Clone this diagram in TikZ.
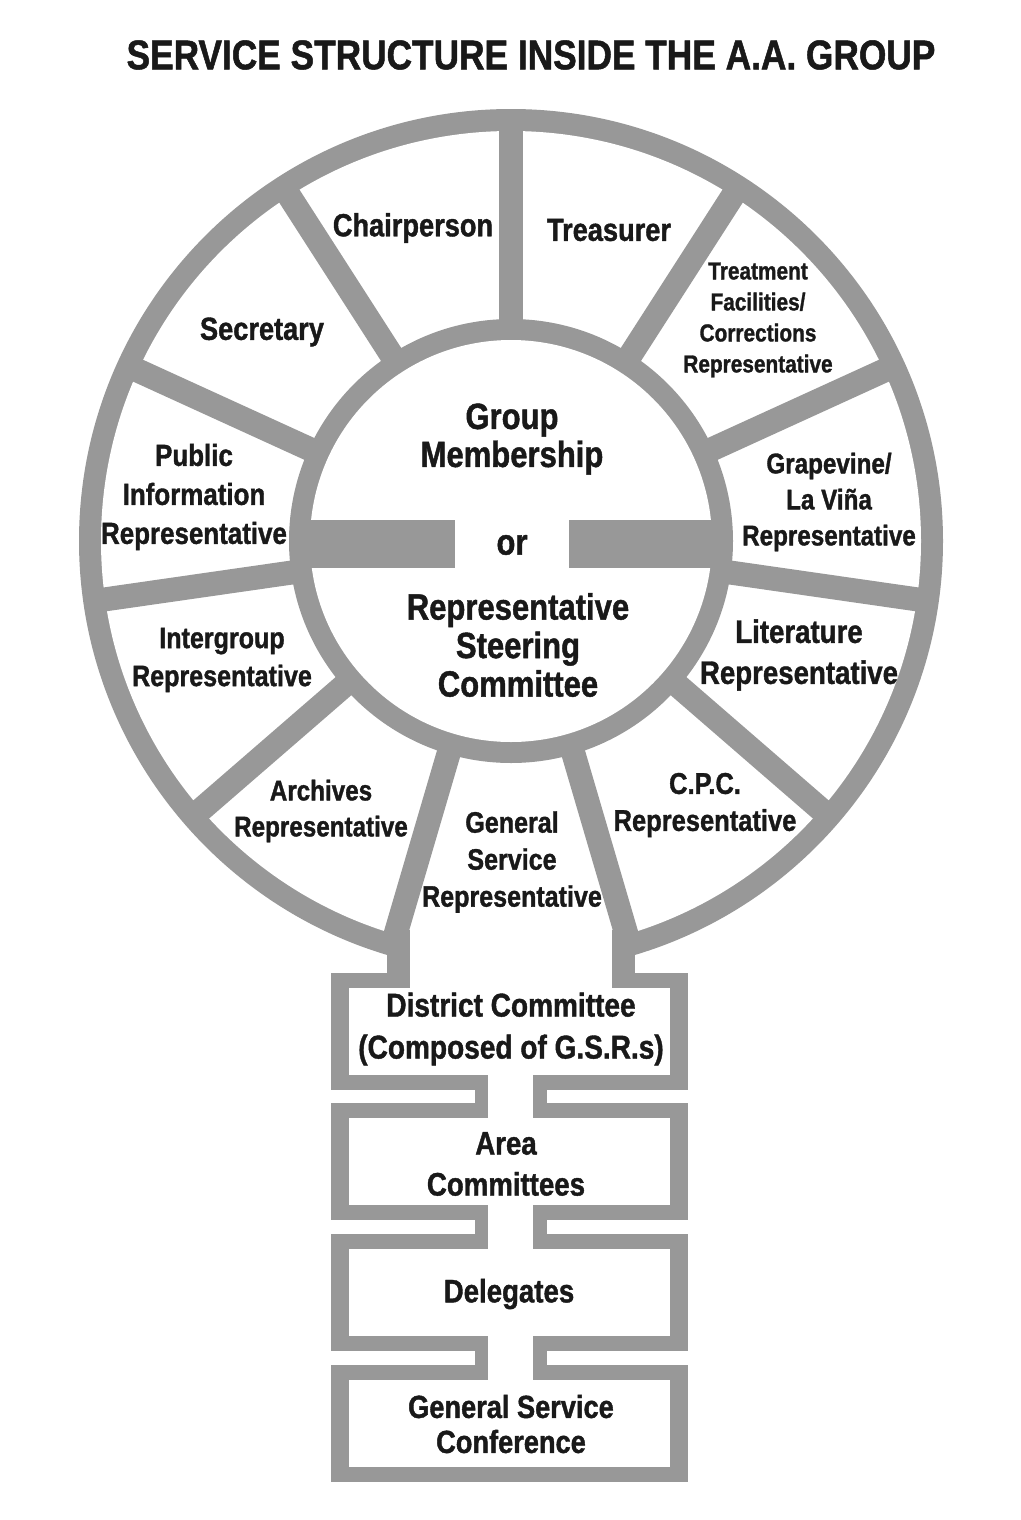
\documentclass[tikz,border=0pt]{standalone}
\usepackage{fontspec}
\setmainfont{Liberation Sans}[FakeStretch=0.85, BoldFeatures={FakeBold=1.2}]
\definecolor{ringgray}{RGB}{152,152,152}
\newcommand{\fsz}[2]{\fontsize{#1}{#2}\selectfont\bfseries}
\tikzset{
  spoke/.style={draw=ringgray, line width=24pt},
  lab/.style={align=center, text=black!90, inner sep=0pt},
}
\begin{document}
\begin{tikzpicture}[x=1pt,y=-1pt]
\useasboundingbox (0,0) rectangle (1020,1520);
\fill[white] (0,0) rectangle (1020,1520);
% outer ring
\fill[ringgray] (511,541) circle (432);
\fill[white] (511,541) circle (410);
\fill[white] (410,900) rectangle (612,990);
% spokes
\foreach \k in {0,...,10}
  \draw[spoke] (511,541) -- ++({-90+\k*360/11}:421);
% hub
\fill[ringgray] (511,541) circle (222);
\fill[white] (511,541) circle (201);
\fill[ringgray] (305,520) rectangle (455,568);
\fill[ringgray] (569,520) rectangle (717,568);
% boxes
\foreach \t in {973,1103,1234,1365} {
  \fill[ringgray] (331,\t) rectangle (688,\t+117);
  \fill[white] (349,\t+15) rectangle (670,\t+102);
}
% necks
\foreach \t/\n in {973/1103,1103/1234,1234/1365} {
  \fill[ringgray] (475,\t+117) rectangle (547,\n);
  \fill[white] (488,\t+102) rectangle (533,\n+15);
}
% top opening and stubs
\fill[white] (410,972) rectangle (612,990);
\fill[ringgray] (387,930) rectangle (410,988);
\fill[ringgray] (612,930) rectangle (635,988);
% texts
\node[lab, font=\fsz{41.5}{48}] (title) at (531,55) {SERVICE STRUCTURE INSIDE THE A.A. GROUP};
\node[lab, font=\fsz{32}{38}] (chair) at (413,228) {Chairperson};
\node[lab, font=\fsz{32}{38}] (treas) at (609,230) {Treasurer};
\node[lab, font=\fsz{32}{38}] (secr) at (262,332) {Secretary};
\node[lab, font=\fsz{24.5}{31}] (treat) at (758,320) {Treatment\\Facilities/\\Corrections\\Representative};
\node[lab, font=\fsz{30.5}{39}] (pubinfo) at (194,497) {Public\\Information\\Representative};
\node[lab, font=\fsz{28.5}{36}] (grape) at (829,502) {Grapevine/\\La Viña\\Representative};
\node[lab, font=\fsz{29.5}{38}] (inter) at (222,660) {Intergroup\\Representative};
\node[lab, font=\fsz{32.5}{41}] (lit) at (799,655) {Literature\\Representative};
\node[lab, font=\fsz{28.5}{36}] (arch) at (321,811) {Archives\\Representative};
\node[lab, font=\fsz{29.5}{37}] (gsr) at (512,862) {General\\Service\\Representative};
\node[lab, font=\fsz{30}{37}] (cpc) at (705,805) {C.P.C.\\Representative};
\node[lab, font=\fsz{36.5}{38}] (group) at (512,439) {Group\\Membership};
\node[lab, font=\fsz{36.5}{38}] (or) at (512,545) {or};
\node[lab, font=\fsz{36.5}{38.5}] (steer) at (518,645) {Representative\\Steering\\Committee};
\node[lab, font=\fsz{33}{42}] (district) at (511,1029) {District Committee\\(Composed of G.S.R.s)};
\node[lab, font=\fsz{32.5}{41}] (area) at (506,1164) {Area\\Committees};
\node[lab, font=\fsz{32.5}{40}] (deleg) at (509,1294) {Delegates};
\node[lab, font=\fsz{32}{35}] (gsc) at (511,1424) {General Service\\Conference};
\end{tikzpicture}
\end{document}
